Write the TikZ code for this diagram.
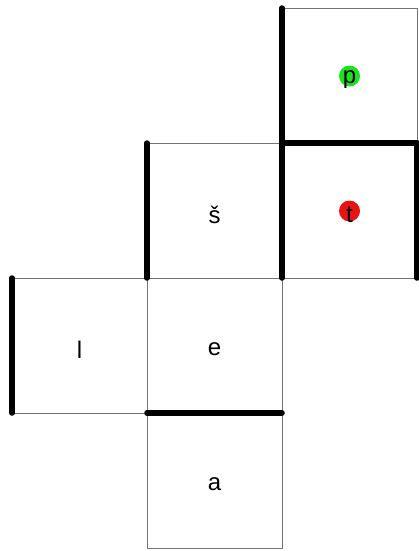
\documentclass[tikz,border=0pt]{standalone}
\usepackage{fontspec}
\setmainfont{Liberation Sans}
\begin{document}
\begin{tikzpicture}[x=1pt,y=-1pt,
  cell/.style={draw=black!55,line width=0.8pt,minimum size=135pt,inner sep=0pt,outer sep=0pt},
  lettr/.style={font=\fontsize{24}{28}\selectfont,yshift=-4pt,inner sep=0pt},
  wall/.style={line width=5.5pt,line cap=round},
  greendot/.style={fill={rgb,255:red,30;green,225;blue,30}},
  reddot/.style={fill={rgb,255:red,230;green,20;blue,20}}]
\useasboundingbox (0,0) rectangle (419,551);
% dots under the letters
\fill[greendot] (349.5,76) circle (10.5pt);
\fill[reddot] (349.5,211) circle (10.5pt);
\node[cell,label={[lettr]center:p}] (p) at (349.5,75.5) {};
\node[cell,label={[lettr]center:š}] (s) at (214.5,210.5) {};
\node[cell,label={[lettr]center:t}] (t) at (349.5,210.5) {};
\node[cell,label={[lettr]center:l}] (l) at (79.5,345.5) {};
\node[cell,label={[lettr]center:e}] (e) at (214.5,345.5) {};
\node[cell,label={[lettr]center:a}] (a) at (214.5,480.5) {};
\draw[wall] (p.north west) -- (p.south west);
\draw[wall] (t.north west) -- (t.south west);
\draw[wall] (t.north west) -- (t.north east);
\draw[wall] (t.north east) -- (t.south east);
\draw[wall] (s.north west) -- (s.south west);
\draw[wall] (l.north west) -- (l.south west);
\draw[wall] (a.north west) -- (a.north east);
\end{tikzpicture}
\end{document}
